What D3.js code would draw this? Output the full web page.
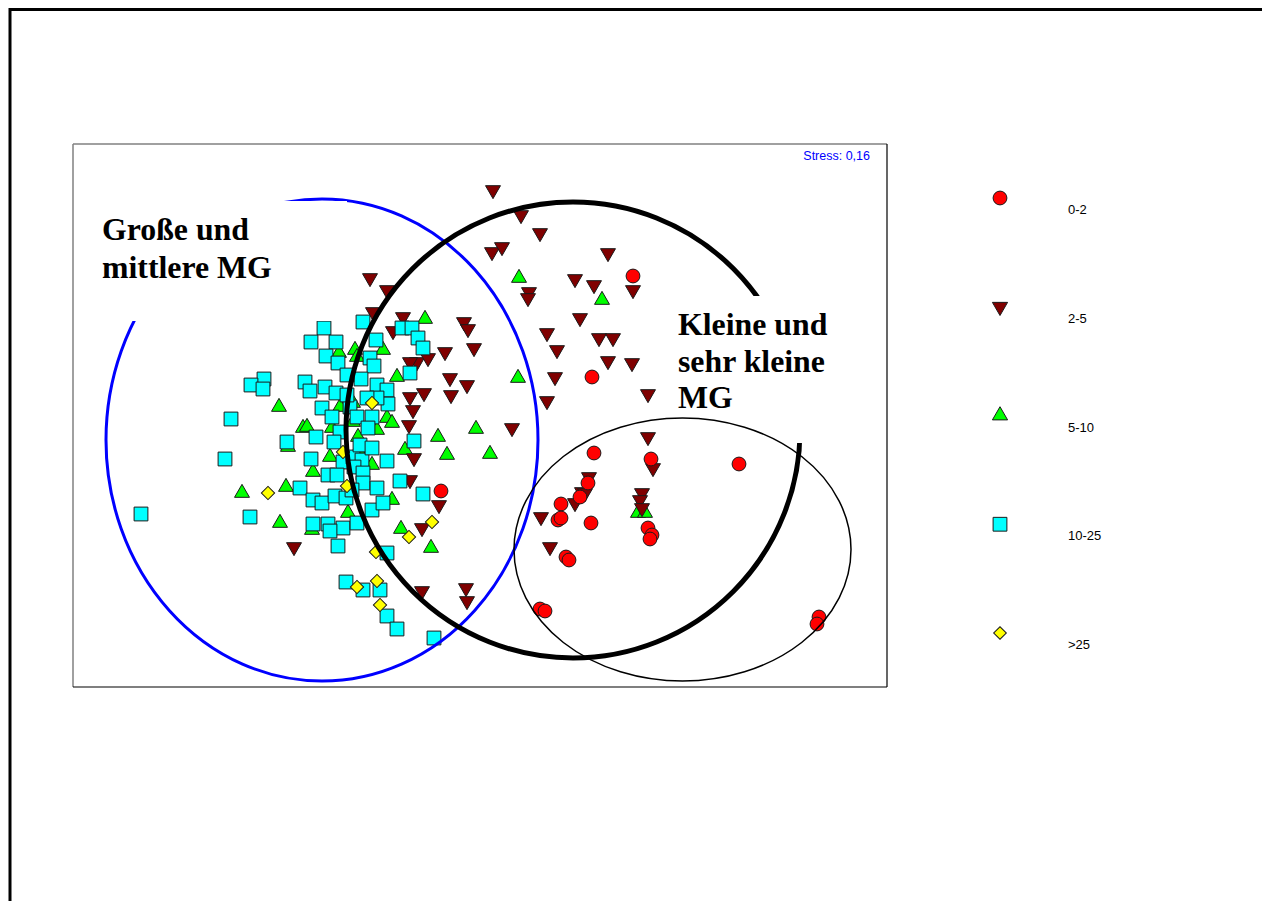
<!DOCTYPE html>
<html>
<head>
<meta charset="utf-8">
<script src="https://cdn.jsdelivr.net/npm/d3@7"></script>
<style>
  html, body { margin: 0; padding: 0; background: #fff; }
  svg { display: block; }
</style>
</head>
<body>
<svg id="chart" width="1262" height="901"></svg>
<script>
// NMDS ordination of sampling sites, grouped by size class (MG)
const classes = ["0-2", "2-5", "5-10", "10-25", ">25"];

// MDS1 / MDS2 coordinates per class
const pts_0_2 = [
  [1.53, 1.39], [1.12, 0.38], [-0.39, -0.76], [1.14, -0.38], [1.71, -0.44],
  [2.59, -0.49], [1.08, -0.68], [1.00, -0.82], [0.81, -0.89], [0.78, -1.05],
  [0.81, -1.03], [1.11, -1.08], [1.68, -1.13], [1.72, -1.20], [1.70, -1.24],
  [0.86, -1.42], [0.89, -1.45], [0.60, -1.94], [0.65, -1.96], [3.39, -2.02],
  [3.37, -2.09]
];
const pts_2_5 = [
  [0.13, 2.25], [0.41, 2.00], [0.60, 1.82], [0.12, 1.63], [0.22, 1.68],
  [1.28, 1.62], [-1.10, 1.37], [0.95, 1.36], [1.14, 1.30], [1.53, 1.25],
  [0.49, 1.23], [0.48, 1.17], [-0.93, 1.25], [1.00, 0.97], [0.67, 0.82],
  [1.19, 0.77], [1.33, 0.77], [0.77, 0.65], [1.28, 0.54], [1.52, 0.52],
  [0.75, 0.38], [1.68, 0.21], [0.67, 0.14], [-0.16, 0.93], [-0.12, 0.86],
  [-0.06, 0.67], [-0.35, 0.63], [-0.77, 0.98], [-0.87, 0.84], [-1.07, 1.03],
  [-0.30, 0.37], [-0.13, 0.30], [-0.29, 0.20], [-0.56, 0.22], [-0.70, 0.18],
  [-0.63, 0.53], [-0.70, 0.53], [-0.52, 0.57], [-0.67, 0.05], [-0.71, -0.10],
  [-0.66, -0.43], [-0.70, -0.65], [-0.41, -0.90], [-0.58, -1.13], [-1.86, -1.32],
  [0.32, -0.13], [1.68, -0.22], [1.73, -0.53], [1.09, -0.62], [1.02, -0.77],
  [0.95, -0.88], [1.05, -0.78], [1.62, -0.78], [1.60, -0.85], [1.62, -0.93],
  [0.61, -1.02], [0.70, -1.32], [-0.58, -1.76], [-0.14, -1.73], [-0.13, -1.86]
];
const pts_5_10 = [
  [0.39, 1.37], [1.22, 1.15], [0.38, 0.37], [-0.55, 0.96], [-0.97, 0.65],
  [-0.83, 0.38], [-1.76, 1.01], [-1.41, 0.62], [-1.25, 0.65], [-1.23, 0.58],
  [-2.01, 0.08], [-1.40, 0.08], [-1.27, 0.12], [-0.93, -0.03], [-0.88, -0.08],
  [-1.77, -0.13], [-1.73, -0.12], [-1.48, -0.13], [-1.27, -0.07], [-1.03, -0.15],
  [-1.22, -0.22], [-0.42, -0.22], [-0.33, -0.40], [-0.75, -0.35], [-1.50, -0.42],
  [-1.22, -0.35], [-1.67, -0.57], [-1.08, -0.50], [-2.38, -0.78], [-1.94, -0.72],
  [-2.00, -1.08], [-1.32, -0.98], [-0.88, -0.85], [-0.79, -1.14], [-0.49, -1.33],
  [-1.92, -0.32], [-1.68, -1.15], [0.10, -0.39], [-0.04, -0.14], [1.58, -0.98],
  [1.65, -0.98]
];
const pts_10_25 = [
  [-1.56, 0.87], [-1.17, 0.93], [-1.69, 0.73], [-1.44, 0.73], [-1.54, 0.59],
  [-1.42, 0.52], [-1.10, 0.57], [-1.04, 0.75], [-1.06, 0.49], [-1.19, 0.36],
  [-1.33, 0.40], [-0.78, 0.87], [-0.68, 0.87], [-0.62, 0.77], [-0.57, 0.67],
  [-0.70, 0.42], [-1.03, 0.30], [-0.93, 0.25], [-0.92, 0.11], [-1.03, 0.17],
  [-2.16, 0.36], [-2.29, 0.30], [-2.17, 0.26], [-1.75, 0.33], [-1.70, 0.24],
  [-1.55, 0.28], [-1.44, 0.22], [-1.58, 0.07], [-1.48, -0.02], [-1.30, 0.08],
  [-1.23, -0.02], [-1.08, -0.02], [-1.13, 0.17], [-1.12, -0.13], [-1.40, -0.17],
  [-2.49, -0.04], [-1.64, -0.22], [-1.46, -0.27], [-1.93, -0.27], [-0.66, -0.26],
  [-2.55, -0.44], [-1.69, -0.44], [-1.37, -0.47], [-1.27, -0.42], [-1.18, -0.45],
  [-0.93, -0.46], [-1.52, -0.60], [-1.43, -0.60], [-1.26, -0.52], [-1.17, -0.58],
  [-1.17, -0.68], [-0.80, -0.66], [-1.03, -0.73], [-1.80, -0.73], [-1.67, -0.85],
  [-1.58, -0.88], [-1.45, -0.81], [-1.34, -0.83], [-1.08, -0.95], [-0.97, -0.88],
  [-0.57, -0.79], [-3.39, -0.99], [-2.30, -1.02], [-1.67, -1.09], [-1.52, -1.09],
  [-1.37, -1.13], [-1.23, -1.08], [-1.50, -1.16], [-1.42, -1.31], [-0.93, -1.38],
  [-1.34, -1.67], [-1.17, -1.75], [-1.00, -1.75], [-0.93, -2.01], [-0.83, -2.14],
  [-0.46, -2.23], [-1.33, 0.20], [-1.20, -0.30], [-1.08, -0.33], [-1.28, -0.75]
];
const pts_gt25 = [
  [-2.12, -0.78], [-1.33, -0.71], [-0.48, -1.07], [-0.71, -1.22], [-1.04, -1.37],
  [-1.03, -1.66], [-1.23, -1.72], [-1.00, -1.90], [-1.08, 0.12], [-1.37, -0.37]
];

// group envelopes: centre (MDS1, MDS2) and semi-axes
const envLarge = { cx: -1.58, cy: -0.25, rx: 2.16, ry: 2.41 };
const envSmall = { cx: 0.93, cy: -0.15, rx: 2.27, ry: 2.28 };
const envTiny  = { cx: 2.025, cy: -1.345, rx: 1.685, ry: 1.315 };

const stressLabel = "Stress: 0,16";
const labelLarge = ["Große und", "mittlere MG"];
const labelSmall = ["Kleine und", "sehr kleine", "MG"];

const svg = d3.select("#chart");

// page frame
svg.append("line").attr("x1", 10).attr("y1", 9.5).attr("x2", 1262).attr("y2", 9.5)
  .attr("stroke", "#000").attr("stroke-width", 3);
svg.append("line").attr("x1", 10).attr("y1", 8).attr("x2", 10).attr("y2", 901)
  .attr("stroke", "#000").attr("stroke-width", 3);

const plot = { left: 73, top: 144, right: 887, bottom: 687 };
const x = d3.scaleLinear().domain([-4.07, 4.07]).range([plot.left, plot.right]);
const y = d3.scaleLinear().domain([-2.72, 2.71]).range([plot.bottom, plot.top]);

// plot border
svg.append("line").attr("x1", plot.left).attr("y1", plot.top).attr("x2", plot.right).attr("y2", plot.top)
  .attr("stroke", "#808080").attr("stroke-width", 1.5);
svg.append("line").attr("x1", plot.left).attr("y1", plot.top).attr("x2", plot.left).attr("y2", plot.bottom)
  .attr("stroke", "#808080").attr("stroke-width", 1.5);
svg.append("line").attr("x1", plot.right).attr("y1", plot.top).attr("x2", plot.right).attr("y2", plot.bottom)
  .attr("stroke", "#000").attr("stroke-width", 1.2);
svg.append("line").attr("x1", plot.left).attr("y1", plot.bottom).attr("x2", plot.right).attr("y2", plot.bottom)
  .attr("stroke", "#000").attr("stroke-width", 1.2);

const styles = {
  "0-2":   { data: pts_0_2,   fill: "#ff0000", sym: d3.symbolCircle,   size: 150, rot: 0 },
  "2-5":   { data: pts_2_5,   fill: "#800000", sym: d3.symbolTriangle, size: 97,  rot: 180 },
  "5-10":  { data: pts_5_10,  fill: "#00ff00", sym: d3.symbolTriangle, size: 97,  rot: 0 },
  "10-25": { data: pts_10_25, fill: "#00ffff", sym: d3.symbolSquare,   size: 190, rot: 0 },
  ">25":   { data: pts_gt25,  fill: "#ffff00", sym: d3.symbolSquare,   size: 88,  rot: 45 }
};

// drawing order of the point layers
const order = ["5-10", "2-5", "10-25", "0-2", ">25"];
const gPts = svg.append("g");
order.forEach(k => {
  const s = styles[k];
  const path = d3.symbol().type(s.sym).size(s.size)();
  gPts.append("g").selectAll("path").data(s.data).join("path")
    .attr("d", path)
    .attr("transform", d => `translate(${x(d[0])},${y(d[1])}) rotate(${s.rot})`)
    .attr("fill", s.fill)
    .attr("stroke", "#1a1a1a")
    .attr("stroke-width", 1);
});

function ellipse(env, stroke, width) {
  svg.append("ellipse")
    .attr("cx", x(env.cx)).attr("cy", y(env.cy))
    .attr("rx", x(env.cx + env.rx) - x(env.cx))
    .attr("ry", y(env.cy) - y(env.cy + env.ry))
    .attr("fill", "none").attr("stroke", stroke).attr("stroke-width", width);
}
ellipse(envLarge, "#0000ff", 3);
ellipse(envSmall, "#000", 5);

// annotation boxes
function note(box, lines, baseY, step) {
  svg.append("rect").attr("x", box[0]).attr("y", box[1])
    .attr("width", box[2] - box[0]).attr("height", box[3] - box[1]).attr("fill", "#fff");
  const t = svg.append("text")
    .attr("font-family", "'Liberation Serif', 'Times New Roman', serif")
    .attr("font-weight", "bold").attr("font-size", 31.8).attr("fill", "#000");
  lines.forEach((l, i) => t.append("tspan").attr("x", box[4]).attr("y", baseY + i * step).text(l));
}
note([95, 201, 347, 321, 102], labelLarge, 240, 37.5);
note([668, 296, 812, 443, 678], labelSmall, 335, 36.5);

ellipse(envTiny, "#000", 1.5);

svg.append("text").attr("x", 870).attr("y", 160).attr("text-anchor", "end")
  .attr("font-family", "'Liberation Sans', Arial, sans-serif").attr("font-size", 12.5)
  .attr("fill", "#0000ff").text(stressLabel);

// legend
const legY = d3.scalePoint().domain(classes).range([198, 633]);
const leg = svg.append("g");
classes.forEach(k => {
  const s = styles[k];
  const legSize = k === ">25" ? 80 : (k === "0-2" ? 150 : (k === "10-25" ? 190 : 100));
  leg.append("path")
    .attr("d", d3.symbol().type(s.sym).size(legSize)())
    .attr("transform", `translate(1000,${legY(k)}) rotate(${s.rot})`)
    .attr("fill", s.fill).attr("stroke", "#1a1a1a").attr("stroke-width", 1);
  leg.append("text").attr("x", 1068).attr("y", legY(k) + 16)
    .attr("font-family", "'Liberation Sans', Arial, sans-serif").attr("font-size", 13)
    .attr("fill", "#000").text(k);
});
</script>
</body>
</html>
